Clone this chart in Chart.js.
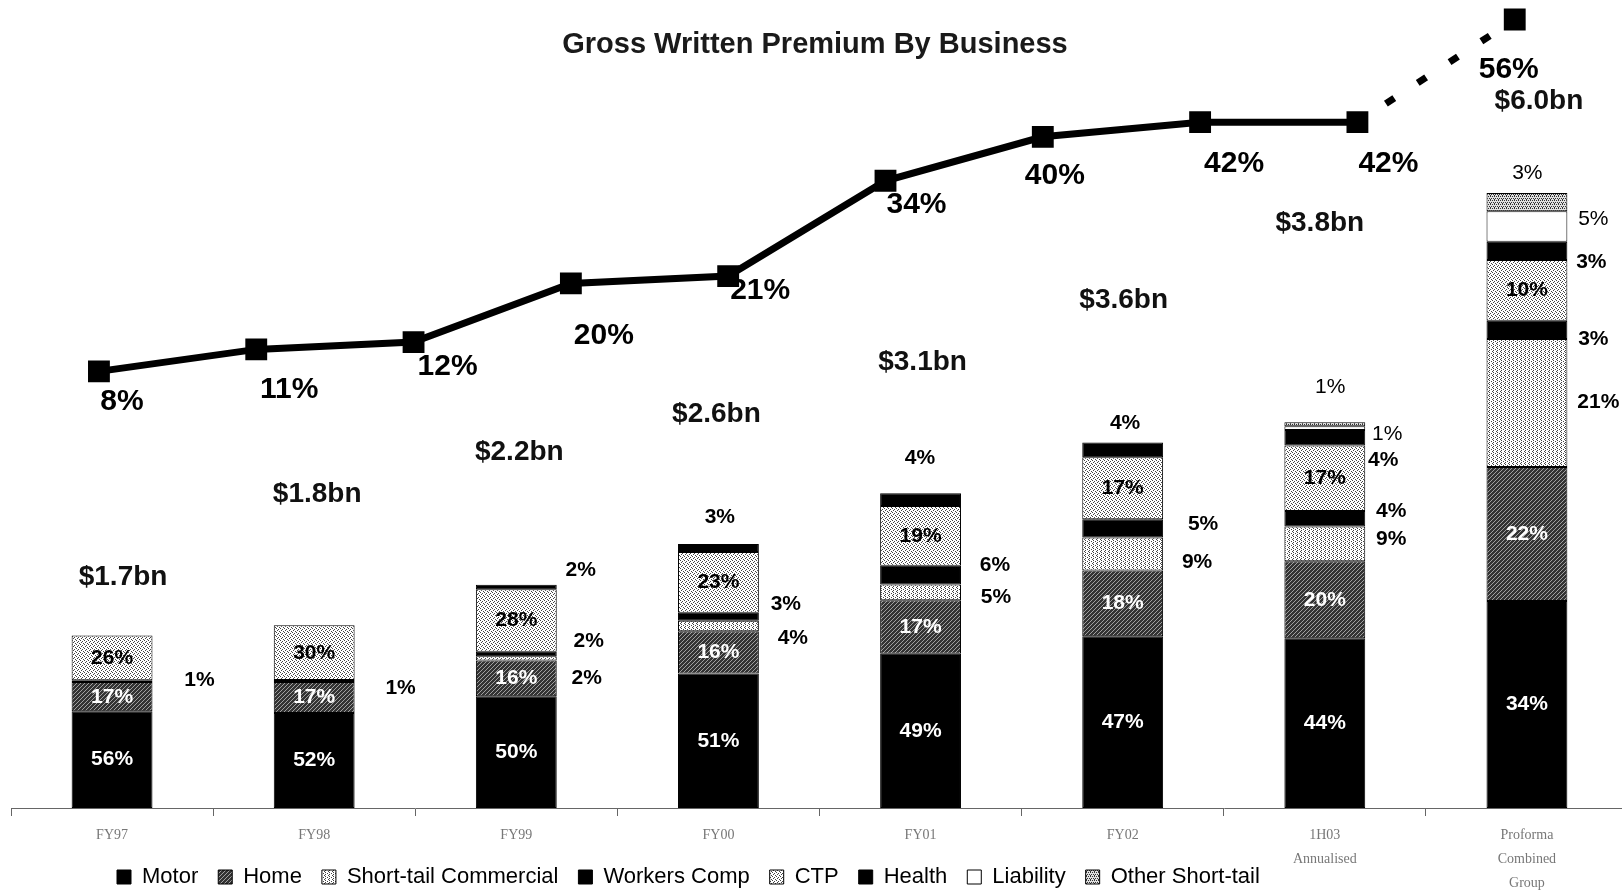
<!DOCTYPE html>
<html>
<head>
<meta charset="utf-8">
<title>Gross Written Premium By Business</title>
<script src="https://cdn.jsdelivr.net/npm/chart.js@4.4.1/dist/chart.umd.min.js"></script>
<style>
  html, body { margin: 0; padding: 0; background: #fff; overflow: hidden; }
  canvas { display: block; }
</style>
</head>
<body>
<canvas id="gwp" width="1630" height="950"></canvas>
<script>
const categories = ['FY97', 'FY98', 'FY99', 'FY00', 'FY01', 'FY02', ['1H03', 'Annualised'], ['Proforma', 'Combined', 'Group']];
const totalsBn = [1.7, 1.8, 2.2, 2.6, 3.1, 3.6, 3.8, 6.0];

// business mix, % of GWP (bottom of the stack first)
const motor = [56, 52, 50, 51, 49, 47, 44, 34];
const home = [17, 17, 16, 16, 17, 18, 20, 22];
const shortTailCommercial = [1, 1, 2, 4, 5, 9, 9, 21];
const workersComp = [0, 0, 2, 3, 6, 5, 4, 3];
const ctp = [26, 30, 28, 23, 19, 17, 17, 10];
const health = [0, 0, 2, 3, 4, 4, 4, 3];
const liability = [0, 0, 0, 0, 0, 0, 1, 5];
const otherShortTail = [0, 0, 0, 0, 0, 0, 1, 3];
const seriesNames = ['Motor', 'Home', 'Short-tail Commercial', 'Workers Comp', 'CTP', 'Health', 'Liability', 'Other Short-tail'];
const seriesShares = [motor, home, shortTailCommercial, workersComp, ctp, health, liability, otherShortTail];

// trend line, last point is the proforma combined group
const trendPct = [8, 11, 12, 20, 21, 34, 40, 42, 42, 56];

// label placement: [category, series, dx from bar edge, dy from segment middle, bold]
const sideSpots = [
  [0, 2, 47, -1, 1], [1, 2, 46, 7, 1],
  [2, 2, 30, 20, 1], [2, 3, 32, -13, 1], [2, 5, 24, -17, 1],
  [3, 2, 34, 12, 1], [3, 3, 27, -12, 1], [3, 5, -39, -31, 1],
  [4, 2, 35, 5, 1], [4, 3, 34, -10, 1], [4, 5, -41, -41, 1],
  [5, 2, 34, 8, 1], [5, 3, 40, -4, 1], [5, 5, -38, -27, 1],
  [6, 2, 26, -5, 1], [6, 3, 26, -8, 1], [6, 5, 18, 22, 1], [6, 6, 22, 6, 0], [6, 7, -35, -37, 0],
  [7, 2, 31, -1, 1], [7, 3, 26, 9, 1], [7, 5, 24, 11, 1], [7, 6, 26, -7, 0], [7, 7, -40, -29, 0]
];
// [dx, rise above bar top] for the $bn totals
const totalNudge = [[11, 58], [3, 131], [3, 132], [-2, 130], [2, 131], [1, 142], [-5, 199], [12, 92]];
// [dx, dy] for the trend labels
const trendNudge = [[23, 30], [33, 40], [34, 25], [33, 52], [32, 15], [31, 24], [12, 39], [34, 42], [31, 42], [-6, 50]];

Chart.defaults.font.family = '"Liberation Sans", Arial, sans-serif';

const canvas = document.getElementById('gwp');
const ctx = canvas.getContext('2d');

function makePattern(size, bg, fg, dots) {
  const c = document.createElement('canvas');
  c.width = c.height = size;
  const g = c.getContext('2d');
  g.fillStyle = bg;
  g.fillRect(0, 0, size, size);
  g.fillStyle = fg;
  dots.forEach(([x, y]) => g.fillRect(x, y, 1, 1));
  return ctx.createPattern(c, 'repeat');
}

const hatchDark = makePattern(4, '#333', '#a0a0a0', [[0, 3], [1, 2], [2, 1], [3, 0]]);
const dotsLight = makePattern(4, '#fff', '#444', [[0, 0], [2, 1], [1, 2], [3, 3]]);
const stripesLight = makePattern(4, '#fff', '#444', [[1, 0], [1, 2], [3, 1], [0, 3]]);
const dotsMid = makePattern(4, '#e0e0e0', '#333', [[0, 0], [2, 0], [1, 2], [3, 2], [2, 3]]);
const fills = ['#000', hatchDark, stripesLight, '#000', dotsLight, '#000', '#fff', dotsMid];

const barDatasets = seriesShares.map((shares, s) => ({
  type: 'bar',
  label: seriesNames[s],
  data: shares.map((p, i) => (p ? totalsBn[i] * p / 100 : null)),
  backgroundColor: fills[s],
  borderColor: '#000',
  borderWidth: 1,
  borderSkipped: false,
  xAxisID: 'x',
  yAxisID: 'y',
  order: 1
}));

const lastTrend = trendPct.length - 1;
const trendDataset = {
  type: 'line',
  label: 'trend',
  data: trendPct.map((v, i) => ({ x: i, y: v })),
  xAxisID: 'x2',
  yAxisID: 'y2',
  borderColor: '#000',
  borderWidth: 7,
  tension: 0,
  pointStyle: 'rect',
  pointRadius: 10.5,
  pointBackgroundColor: '#000',
  pointBorderColor: '#000',
  clip: false,
  order: 0,
  segment: {
    borderDash: c => (c.p1DataIndex === lastTrend ? [10, 28] : undefined),
    borderDashOffset: c => (c.p1DataIndex === lastTrend ? 4 : 0)
  }
};

const valueLabels = {
  id: 'valueLabels',
  afterDatasetsDraw(chart) {
    const c = chart.ctx;
    c.save();
    c.textAlign = 'center';
    c.textBaseline = 'middle';

    // shares inside or beside each segment
    seriesShares.forEach((shares, s) => {
      const meta = chart.getDatasetMeta(s);
      shares.forEach((pct, i) => {
        if (!pct) return;
        const bar = meta.data[i];
        const mid = (bar.y + bar.base) / 2;
        const spot = sideSpots.find(p => p[0] === i && p[1] === s);
        if (spot) {
          c.font = (spot[4] ? 'bold ' : '') + '21px "Liberation Sans"';
          c.fillStyle = '#000';
          c.fillText(pct + '%', bar.x + bar.width / 2 + spot[2], mid + spot[3]);
        } else if (pct >= 10) {
          c.font = 'bold 21px "Liberation Sans"';
          c.fillStyle = s < 2 ? '#fff' : '#000';
          c.fillText(pct + '%', bar.x, mid);
        }
      });
    });

    // totals above the bars
    c.font = 'bold 28px "Liberation Sans"';
    c.fillStyle = '#111';
    totalsBn.forEach((t, i) => {
      let top = Infinity;
      let x = 0;
      seriesShares.forEach((shares, s) => {
        if (!shares[i]) return;
        const bar = chart.getDatasetMeta(s).data[i];
        top = Math.min(top, bar.y);
        x = bar.x;
      });
      c.fillText('$' + t.toFixed(1) + 'bn', x + totalNudge[i][0], top - totalNudge[i][1]);
    });

    // trend labels
    c.font = 'bold 30px "Liberation Sans"';
    c.fillStyle = '#000';
    const pts = chart.getDatasetMeta(seriesShares.length).data;
    trendPct.forEach((v, i) => {
      c.fillText(v + '%', pts[i].x + trendNudge[i][0], pts[i].y + trendNudge[i][1]);
    });
    c.restore();
  }
};

// the title sits over the top of the plot (the trend line climbs past it),
// the legend sits left of centre and overlaps the tall category labels
const titleDrop = 30.5;
const titleShift = -4.5;
const legendShift = 86;
const legendLift = 52;
const boxPlacer = {
  id: 'boxPlacer',
  afterLayout(chart) {
    const t = chart.titleBlock;
    t.top += titleDrop;
    t.bottom += titleDrop;
    t.left += titleShift;
    t.right += titleShift;
    const lg = chart.legend;
    lg.left += legendShift;
    lg.right += legendShift;
    lg.top -= legendLift;
    lg.bottom -= legendLift;
  }
};

new Chart(ctx, {
  data: {
    labels: categories,
    datasets: [...barDatasets, trendDataset]
  },
  options: {
    responsive: false,
    animation: false,
    devicePixelRatio: 1,
    layout: { autoPadding: false, padding: { left: 11, right: 2, top: 0, bottom: 0 } },
    datasets: {
      bar: { categoryPercentage: 1, barPercentage: 0.4, grouped: false }
    },
    scales: {
      x: {
        type: 'category',
        stacked: true,
        offset: true,
        grid: { offset: true, drawOnChartArea: false, drawTicks: true, tickLength: 8, color: '#666' },
        border: { color: '#666', width: 1 },
        ticks: {
          color: '#777',
          padding: 7,
          maxRotation: 0,
          autoSkip: false,
          font: { family: '"Liberation Serif", serif', size: 14, lineHeight: 1.72 }
        },
        afterFit: s => {
          s.height = 90;
          s.paddingLeft = 0;
          s.paddingRight = 0;
        }
      },
      y: { stacked: true, display: false, min: 0, max: 7.675 },
      x2: { type: 'linear', display: false, min: -0.559, max: 9.72 },
      y2: { type: 'linear', display: false, min: -51.57, max: 54.71 }
    },
    plugins: {
      title: {
        display: true,
        text: 'Gross Written Premium By Business',
        color: '#1a1a1a',
        font: { size: 29, weight: 'bold', lineHeight: 1 },
        padding: 0
      },
      legend: {
        position: 'bottom',
        align: 'start',
        labels: {
          color: '#000',
          boxWidth: 14,
          boxHeight: 14,
          padding: 20,
          font: { size: 22 },
          filter: item => item.datasetIndex < seriesShares.length
        }
      },
      tooltip: { enabled: false }
    }
  },
  plugins: [valueLabels, boxPlacer]
});
</script>
</body>
</html>
